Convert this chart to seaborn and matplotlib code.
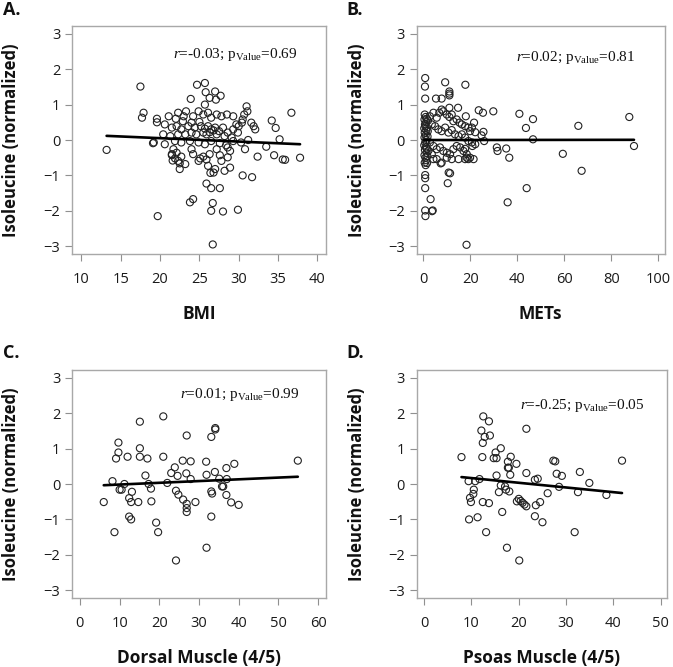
import matplotlib
matplotlib.use("Agg")
import matplotlib.pyplot as plt
import seaborn as sns

# ---------------- data ----------------
bmi = [13.2, 17.5, 17.9, 17.7, 19.1, 19.7, 21.5, 21.6, 22.5, 23.8, 24.2, 26.7, 26.7, 26.5, 28.0, 29.9,
       27.6, 26.5, 25.9, 26.4, 26.8,
       24.7, 25.7, 23.9, 25.8, 27.0, 27.7, 26.3, 27.1, 25.7, 19.6, 19.6, 20.6, 21.1, 22.0, 22.3, 23.0,
       23.3, 22.9, 24.2, 24.9, 25.5, 26.1, 26.5, 27.2, 27.8, 28.5, 29.3, 21.5, 22.1, 22.7, 23.6, 24.0,
       24.4, 25.0, 25.2, 25.7, 26.1, 26.5, 27.0, 27.5, 28.0, 28.6, 29.3, 29.7, 20.4, 21.3, 22.3, 23.2,
       24.0, 24.6, 25.5, 25.9, 26.3, 26.8, 27.2, 28.2, 29.1, 19.2, 20.6, 21.9, 22.7, 23.8, 24.9, 25.7,
       26.5, 27.6, 28.4, 29.3, 21.7, 21.5, 22.1, 21.9, 22.3, 22.7, 24.0, 24.2, 25.1, 25.5, 25.9, 24.9,
       26.3, 27.2, 27.6, 27.8, 28.6, 28.9, 23.2, 26.1, 27.0, 28.2, 28.9, 22.5,
       31.0, 31.1, 30.7, 30.5, 30.4, 31.6, 31.9, 32.1, 30.0, 29.9, 31.2, 30.3, 28.6, 30.8, 32.4, 33.5,
       34.5, 35.6, 35.9, 37.8, 35.2, 34.7, 34.2, 36.7, 30.5, 31.7]
iso_bmi = [-0.28, 1.51, 0.77, 0.63, -0.09, -2.15, -0.40, -0.58, -0.66, -1.76, -1.67, -2.95, -1.78, -2.00,
           -2.02, -1.97, -1.36, -1.36, -1.23, -0.93, -0.92,
           1.56, 1.61, 1.16, 1.35, 1.37, 1.25, 1.19, 1.14, 1.00, 0.60, 0.50, 0.44, 0.67, 0.60, 0.77, 0.67,
           0.81, 0.53, 0.67, 0.81, 0.72, 0.77, 0.63, 0.72, 0.67, 0.72, 0.67, 0.35, 0.39, 0.30, 0.39, 0.49,
           0.35, 0.51, 0.39, 0.32, 0.39, 0.30, 0.35, 0.25, 0.35, 0.21, 0.30, 0.44, 0.16, 0.11, 0.16, 0.16,
           0.21, 0.16, 0.21, 0.16, 0.22, 0.27, 0.16, 0.11, 0.07, -0.07, -0.12, -0.03, -0.07, -0.03, -0.07,
           -0.12, -0.03, -0.09, -0.15, -0.03, -0.26, -0.43, -0.36, -0.52, -0.59, -0.47, -0.26, -0.40, -0.52,
           -0.47, -0.55, -0.59, -0.40, -0.26, -0.43, -0.59, -0.49, -0.31, -0.68, -0.73, -0.82, -0.87, -0.78,
           -0.82,
           0.95, 0.81, 0.72, 0.58, 0.49, 0.49, 0.39, 0.30, 0.39, 0.21, 0.00, -0.07, -0.21, -0.26, -0.47,
           -0.19, -0.43, -0.55, -0.56, -0.50, 0.02, 0.34, 0.55, 0.77, -1.00, -1.05]

mets = [0.8, 0.7, 0.8, 0.6, 1.0, 0.5, 1.2, 0.7, 0.9, 0.4, 1.3, 0.6, 1.0, 0.5, 1.2, 0.8, 0.4, 1.1, 0.7,
        1.4, 0.5, 0.9, 1.2, 0.6, 1.0, 0.8, 0.8, 0.8, 0.8, 0.9, 1.5, 1.6, 1.8, 1.5, 1.7, 1.6, 2.0, 2.2,
        1.9, 1.3,
        3.1, 4.0, 3.7, 5.4, 7.8, 9.3, 11.1, 11.1, 11.1, 11.1, 10.8, 11.4, 10.4, 14.8, 17.9, 18.4, 18.1,
        19.2, 20.9, 21.6, 23.6, 25.4, 24.8, 25.6, 25.9, 29.8, 31.3, 31.6, 35.3, 35.9, 36.6, 40.9, 43.7,
        44.0, 46.7, 46.7, 59.4, 66.0, 67.4, 87.7, 89.7, 7.4, 18.5, 17.8,
        2.8, 4.3, 5.7, 6.8, 7.8, 8.5, 10.0, 11.1, 12.1, 12.8, 14.2, 15.4, 16.4, 17.8, 19.2, 19.9, 20.7,
        22.1, 3.6, 5.0, 6.4, 7.8, 9.3, 10.7, 12.1, 13.5, 15.0, 16.4, 17.8, 19.2, 20.7, 22.1, 2.8, 4.3,
        5.7, 7.1, 8.5, 10.0, 11.4, 12.8, 14.2, 15.7, 17.1, 18.5, 19.9, 21.4, 5.7, 7.8, 10.0, 12.1, 15.0,
        17.8, 3.6, 4.3]
iso_mets = [1.75, 1.51, 1.17, 0.72, 0.65, 0.58, 0.50, 0.44, 0.39, 0.33, 0.27, 0.21, 0.13, 0.07, 0.00,
            -0.07, -0.15, -0.21, -0.28, -0.36, -0.43, -0.50, -0.57, -0.64, -0.71, -0.99, -1.08, -1.36,
            -1.99, -2.15, 0.60, 0.35, 0.10, -0.25, -0.45, -0.65, 0.55, -0.30, 0.25, -0.05,
            -1.67, -1.99, -2.01, 1.17, 1.17, 1.63, 1.37, 1.31, 1.26, 0.91, -0.92, -0.94, -1.22, 0.91, 1.56,
            -2.96, 0.67, -0.54, -0.17, 0.49, 0.84, 0.77, 0.13, 0.23, -0.03, 0.81, -0.21, -0.31, -0.24,
            -1.76, -0.50, 0.74, 0.34, -1.36, 0.59, 0.02, -0.39, 0.40, -0.87, 0.65, -0.17, -0.66, -0.50,
            -0.25,
            0.67, 0.77, 0.63, 0.77, 0.86, 0.81, 0.72, 0.65, 0.72, 0.53, 0.58, 0.49, 0.44, 0.39, 0.35, 0.25,
            0.35, 0.22, 0.44, 0.39, 0.30, 0.25, 0.35, 0.21, 0.28, 0.16, 0.11, 0.16, 0.07, -0.03, -0.07,
            -0.12, -0.07, -0.17, -0.26, -0.21, -0.31, -0.36, -0.40, -0.26, -0.17, -0.21, -0.31, -0.40,
            -0.50, -0.54, -0.54, -0.64, -0.50, -0.54, -0.54, -0.54, -0.40, -0.54]

dorsal = [6.0, 8.2, 8.7, 9.1, 9.7, 9.7, 10.0, 10.5, 11.2, 12.0, 12.4, 12.4, 12.9, 13.1, 12.9, 14.7, 15.1,
          15.1, 15.1, 16.5, 17.0, 17.3, 17.9, 18.0, 19.2, 19.7, 21.0, 21.0, 22.0, 23.0, 23.9, 24.2, 24.6,
          24.8, 24.2, 25.9, 26.0, 26.8, 26.9, 26.9, 26.9, 26.9, 27.9, 27.9, 29.1, 31.8, 31.9, 31.9, 33.1,
          33.1, 33.1, 33.3, 34.1, 34.1, 34.0, 35.1, 35.8, 36.1, 36.9, 36.9, 37.0, 38.1, 38.9, 40.0, 54.9]
iso_dorsal = [-0.51, 0.08, -1.36, 0.72, 1.17, 0.89, -0.16, -0.16, 0.00, 0.77, -0.40, -0.92, -1.00, -0.22,
              -0.51, -0.51, 1.76, 1.01, 0.77, 0.24, 0.72, 0.00, -0.13, -0.49, -1.09, -1.36, 1.91, 0.77,
              0.03, 0.31, 0.47, -0.19, 0.23, -0.30, -2.16, 0.66, -0.44, 0.30, 1.37, -0.56, -0.68, -0.79,
              0.64, 0.14, -0.51, 0.63, 0.26, -1.80, 1.33, -0.92, -0.21, -0.27, 1.54, 1.58, 0.34, 0.15,
              -0.07, -0.07, -0.31, 0.45, 0.14, -0.52, 0.57, -0.59, 0.66]

psoas = [7.9, 9.4, 9.5, 9.7, 9.9, 10.4, 10.5, 10.8, 11.3, 11.7, 12.1, 12.3, 12.4, 12.5, 12.4, 12.8, 13.1,
         13.7, 13.9, 13.7, 14.7, 15.3, 15.1, 15.3, 15.8, 16.2, 16.2, 16.5, 17.1, 17.3, 17.5, 17.7, 17.7,
         17.9, 18.0, 18.2, 18.3, 19.5, 19.6, 20.1, 20.0, 20.4, 20.8, 21.2, 21.6, 21.6, 21.6, 23.4, 24.0,
         23.4, 23.6, 24.5, 25.0, 26.1, 27.3, 27.7, 28.0, 28.5, 29.1, 31.8, 32.5, 32.9, 34.9, 38.5, 41.8]
iso_psoas = [0.76, 0.08, -1.00, -0.39, -0.51, -0.28, -0.16, 0.08, -0.94, 0.14, 1.51, 0.76, 1.16, 1.91,
             -0.51, 1.33, -1.36, 1.77, 1.37, -0.54, 0.73, 0.73, 0.89, 0.24, -0.23, 1.01, -0.04, -0.79,
             -0.07, -0.16, -1.80, 0.63, 0.46, 0.46, -0.21, 0.26, 0.77, 0.57, -0.49, -2.16, -0.42, -0.48,
             -0.53, -0.58, -0.63, 1.56, 0.31, 0.12, 0.15, -0.91, -0.60, -0.51, -1.08, -0.26, 0.66, 0.64,
             0.29, -0.08, 0.23, -1.36, -0.23, 0.34, 0.03, -0.31, 0.66]

panel_letters = ["A.", "B.", "C.", "D."]
x_labels = ["BMI", "METs", "Dorsal Muscle (4/5)", "Psoas Muscle (4/5)"]
y_label = "Isoleucine (normalized)"
r_vals = ["-0.03", "0.02", "0.01", "-0.25"]
p_vals = ["0.69", "0.81", "0.99", "0.05"]
x_ticks = [[10, 15, 20, 25, 30, 35, 40], [0, 20, 40, 60, 80, 100],
           [0, 10, 20, 30, 40, 50, 60], [0, 10, 20, 30, 40, 50]]
y_ticks = [-3, -2, -1, 0, 1, 2, 3]

# ---------------- style ----------------
sns.set_style("white")
plt.rcParams['font.family'] = ['Open Sans', 'DejaVu Sans']
plt.rcParams['mathtext.fontset'] = 'custom'
plt.rcParams['mathtext.rm'] = 'Liberation Serif'
plt.rcParams['mathtext.it'] = 'Liberation Serif:italic'

W, H = 673, 667
fig = plt.figure(figsize=(W / 100, H / 100), dpi=100)


def box(l, r, t, b):
    return [l / W, 1 - b / H, (r - l) / W, (b - t) / H]


layout = [
    dict(rect=box(72, 326, 26, 254), xlim=(8.8, 41.1), letter=(3, 10), txt=(0.89, 0.873)),
    dict(rect=box(416.5, 665, 26, 254), xlim=(-2.9, 102.9), letter=(346, 10), txt=(0.879, 0.862)),
    dict(rect=box(72, 326, 370, 598), xlim=(-2.0, 62.0), letter=(3, 353), txt=(0.894, 0.893)),
    dict(rect=box(416.5, 667, 370, 598), xlim=(-1.6, 51.3), letter=(346, 353), txt=(0.912, 0.846)),
]
xs = [bmi, mets, dorsal, psoas]
ys = [iso_bmi, iso_mets, iso_dorsal, iso_psoas]

for i in range(4):
    L = layout[i]
    ax = fig.add_axes(L["rect"])
    sns.regplot(x=xs[i], y=ys[i], ax=ax, ci=None, color="#222222",
                scatter_kws=dict(facecolors="none", edgecolors="#222222", s=26,
                                 linewidths=0.8, alpha=1),
                line_kws=dict(color="black", lw=1.9))
    ax.set_xlim(*L["xlim"])
    ax.set_ylim(-3.22, 3.22)
    ax.set_xticks(x_ticks[i])
    ax.set_yticks(y_ticks)
    for s in ax.spines.values():
        s.set_color("#a8a8a8")
        s.set_linewidth(1.0)
    ax.tick_params(axis="both", which="both", bottom=True, left=True, direction="out",
                   length=5, width=0.8, color="#909090", labelsize=10.5, labelcolor="#1a1a1a")
    ax.tick_params(axis="x", pad=8)
    ax.tick_params(axis="y", pad=3.5)
    ax.set_xlabel(x_labels[i], fontsize=12.5, fontweight="bold", color="#111111")
    ax.set_ylabel(y_label, fontsize=12, fontweight="bold", color="#111111")
    ax.xaxis.set_label_coords(0.5, -0.225)
    ax.yaxis.set_label_coords(-0.203, 0.5)
    ax.text(L["txt"][0], L["txt"][1],
            r"$\mathit{r}$=" + r_vals[i] + r"; p$_{\mathrm{Value}}$=" + p_vals[i],
            transform=ax.transAxes, ha="right", va="center", fontsize=11,
            family=["Liberation Serif", "DejaVu Serif"], color="#111111")
    fig.text(L["letter"][0] / W, 1 - L["letter"][1] / H, panel_letters[i],
             fontsize=13, fontweight="bold", ha="left", va="center", color="#111111")

fig.savefig("out.png", dpi=100)
